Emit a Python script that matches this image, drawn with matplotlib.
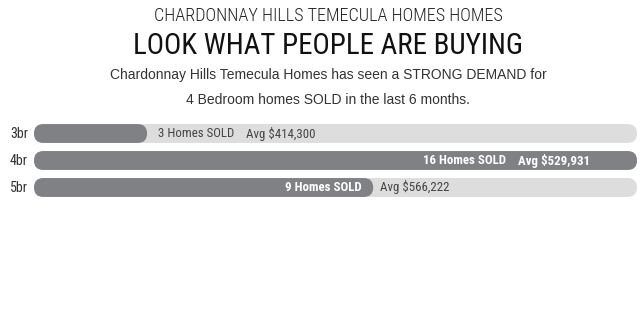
import matplotlib
matplotlib.use("Agg")
import matplotlib.pyplot as plt
from matplotlib.patches import FancyBboxPatch

rooms = ["3br", "4br", "5br"]
homes_sold = [3, 16, 9]
avg_price = [414300, 529931, 566222]

kicker = "CHARDONNAY HILLS TEMECULA HOMES HOMES"
headline = "LOOK WHAT PEOPLE ARE BUYING"
blurb = ["Chardonnay Hills Temecula Homes has seen a STRONG DEMAND for",
         "4 Bedroom homes SOLD in the last 6 months."]

DARK = "#808184"
TRACK = "#dddddd"
TEXT = "#333333"
COND = ["Roboto Condensed", "Liberation Sans", "DejaVu Sans"]
SANS = ["Liberation Sans", "DejaVu Sans"]

W, H = 642, 309
fig = plt.figure(figsize=(W / 100, H / 100), dpi=100)
fig.patch.set_facecolor("white")

# header text
fig.text(328 / W, 1 - 16 / H, kicker, ha="center", va="center",
         family=COND, fontweight="light", fontsize=13.1, color="#222222")
fig.text(328 / W, 1 - 46 / H, headline, ha="center", va="center",
         family=COND, fontweight="normal", fontsize=20.8, color="#111111")
for k, line in enumerate(blurb):
    fig.text(328 / W, 1 - (75 + 25 * k) / H, line, ha="center", va="center",
             family=SANS, fontsize=10, color=TEXT)

# bar area: x from 34px to 637px, rows centred at ~134/161/187px
left_px, right_px, top_px, bot_px = 34, 637, 120, 201
ax = fig.add_axes([left_px / W, 1 - bot_px / H,
                   (right_px - left_px) / W, (bot_px - top_px) / H])
vmax = max(homes_sold)
ax.set_xlim(0, vmax)
ax.set_ylim(len(rooms) - 0.5, -0.5)
ax.axis("off")

px_x = (right_px - left_px) / vmax
px_y = (bot_px - top_px) / len(rooms)
aspect = px_x / px_y
bar_h = 0.7


def pill(x0, width, y, color):
    r = bar_h / (2 * aspect)
    p = FancyBboxPatch((x0, y - bar_h / 2), width, bar_h,
                       boxstyle=f"round,pad=0,rounding_size={r}",
                       mutation_aspect=aspect, fc=color, ec="none")
    ax.add_patch(p)


def label(s, xy, xycoords, dx_px, ha, inside):
    return ax.annotate(s, xy=xy, xycoords=xycoords, xytext=(dx_px * 0.72, 0),
                       textcoords="offset points", ha=ha, va="center",
                       family=COND, fontsize=9.3,
                       color="white" if inside else "#444444",
                       fontweight="bold" if inside else "normal")


for i, (room, n, price) in enumerate(zip(rooms, homes_sold, avg_price)):
    pill(0, vmax, i, TRACK)
    pill(0, n, i, DARK)
    ax.text(-6 / (right_px - left_px), i, room, transform=ax.get_yaxis_transform(),
            ha="right", va="center", family=COND, fontsize=10, color=TEXT)
    sold = f"{n} Homes SOLD"
    avg = f"Avg ${price:,}"
    bar_px = n * px_x
    if n == vmax:
        t = label(avg, (n, i), "data", -47, "right", True)
        label(sold, (0, 0.5), t, -12, "right", True)
    elif bar_px > 200:
        label(sold, (n, i), "data", -12, "right", True)
        label(avg, (n, i), "data", 7, "left", False)
    else:
        t = label(sold, (n, i), "data", 11, "left", False)
        label(avg, (1, 0.5), t, 12, "left", False)

fig.savefig("out.png", dpi=100, facecolor="white")
